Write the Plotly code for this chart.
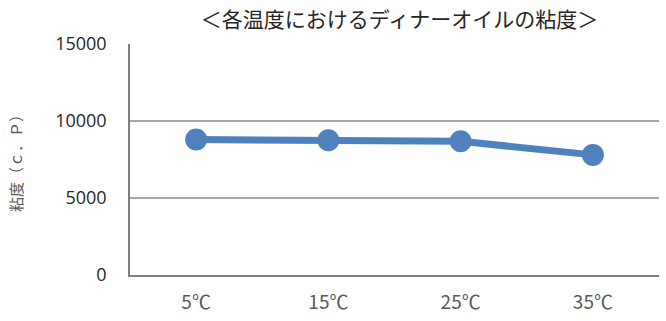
import plotly.graph_objects as go

# Viscosity of dinner oil at each temperature
temperatures = ["5℃", "15℃", "25℃", "35℃"]
viscosity = [8800, 8750, 8680, 7800]
y_ticks = [0, 5000, 10000, 15000]
y_tick_labels = ["0", "5000", "10000", "15000"]

title_text = "＜各温度におけるディナーオイルの粘度＞"
y_title = "粘度（ｃ．Ｐ）"

line_color = "#4F81BD"
text_color = "#595959"

fig = go.Figure(
    go.Scatter(
        x=temperatures,
        y=viscosity,
        mode="lines+markers",
        line=dict(color=line_color, width=7),
        marker=dict(color=line_color, size=22),
        showlegend=False,
    )
)

fig.update_layout(
    width=666,
    height=321,
    margin=dict(l=130, r=7, t=44, b=46),
    paper_bgcolor="white",
    plot_bgcolor="white",
    title=dict(
        text=title_text,
        x=0.6, xanchor="center",
        y=0.94, yanchor="middle",
        font=dict(family="Noto Sans CJK JP", size=21, color="#262626"),
    ),
    font=dict(family="Noto Sans CJK JP", color=text_color),
)

fig.update_xaxes(
    type="category",
    range=[-0.5, 3.5],
    automargin=False,
    showgrid=False,
    showline=True,
    linecolor="#7f7f7f",
    linewidth=2,
    ticks="",
    tickfont=dict(family="Noto Sans CJK JP", size=19, color=text_color),
    ticklabelstandoff=9,
)

fig.update_yaxes(
    range=[0, 15000],
    automargin=False,
    tickvals=y_ticks,
    ticktext=y_tick_labels,
    showgrid=True,
    gridcolor="#a6a6a6",
    gridwidth=1.5,
    zeroline=False,
    showline=True,
    linecolor="#7f7f7f",
    linewidth=1.5,
    ticks="",
    tickfont=dict(family="Open Sans", size=18, color="#262626"),
    ticklabelstandoff=18,
    title=dict(
        text=y_title,
        font=dict(family="Noto Sans CJK JP", size=15, color=text_color),
        standoff=29,
    ),
)

fig.write_html("out.html")
